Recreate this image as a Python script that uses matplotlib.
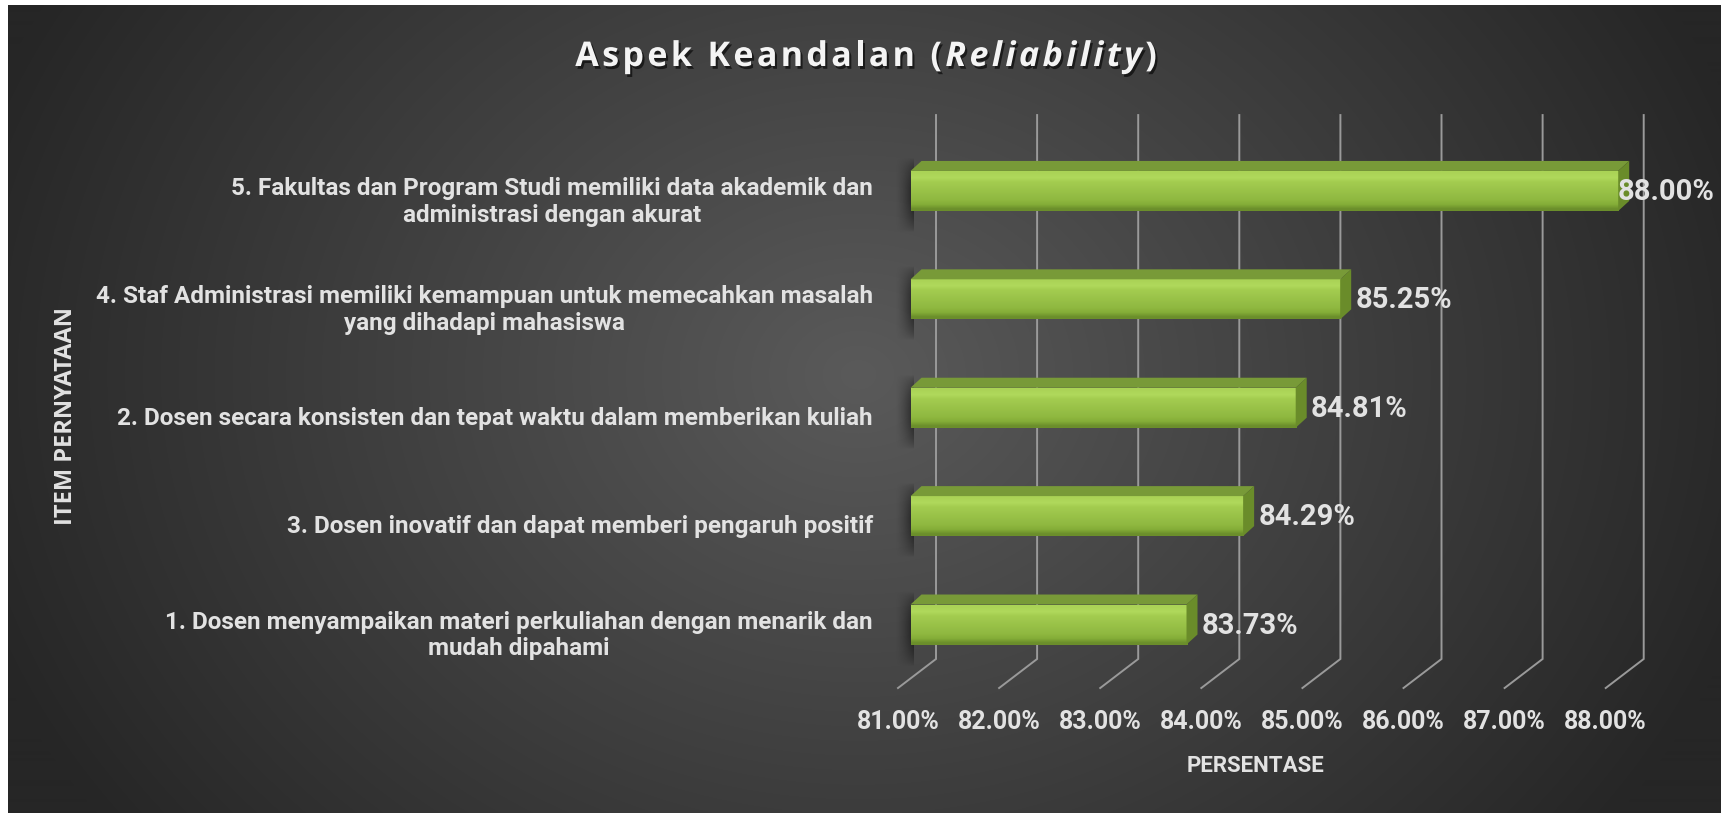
import numpy as np
import matplotlib.pyplot as plt
from matplotlib.patches import Polygon
import matplotlib.patheffects as pe

# data (urut dari bawah ke atas)
labels = [
    "1. Dosen menyampaikan materi perkuliahan dengan menarik dan\nmudah dipahami",
    "3. Dosen inovatif dan dapat memberi pengaruh positif",
    "2. Dosen secara konsisten dan tepat waktu dalam memberikan kuliah",
    "4. Staf Administrasi memiliki kemampuan untuk memecahkan masalah\nyang dihadapi mahasiswa",
    "5. Fakultas dan Program Studi memiliki data akademik dan\nadministrasi dengan akurat",
]
values = [83.73, 84.29, 84.81, 85.25, 88.00]
ticks = [81, 82, 83, 84, 85, 86, 87, 88]
tick_labels = [f"{t:.2f}%" for t in ticks]

plt.rcParams["font.family"] = ["Roboto", "DejaVu Sans"]
TXT = "#e2e2e2"

W, H = 1721, 813
fig = plt.figure(figsize=(W / 100, H / 100), dpi=100, facecolor="white")
r = fig.canvas.get_renderer()

# latar belakang gradasi radial
bg = fig.add_axes([8 / W, 0, 1 - 8 / W, 1 - 5 / H])
bg.set_axis_off()
yy, xx = np.mgrid[0:808, 0:1713]
d = np.sqrt(((xx - 850) / 930) ** 2 + ((yy - 370) / 760) ** 2)
d = np.clip(d, 0, 1)
g = (0x5a + (0x26 - 0x5a) * d) / 255
bg.imshow(np.dstack([g, g, g]), aspect="auto", extent=(0, 1, 0, 1))
bg.set_xlim(0, 1)
bg.set_ylim(0, 1)

# axes utama (bidang depan batang)
ax = fig.add_axes([800 / W, (H - 720) / H, 900 / W, 620 / H])
ax.set_axis_off()
ax.set_xlim(79.907, 88.809)
ax.set_ylim(-0.881, 4.839)
sx = 1 / 101.1   # 1 px dalam satuan x
sy = 1 / 108.4   # 1 px dalam satuan y

# garis grid (dinding belakang + lantai)
for t in ticks:
    xb = t + 25.5 * sx
    xf = t - 12.5 * sx
    ax.plot([xb, xb, xf], [4.70, -0.318, -0.586], color="#9a9a9a", lw=1.4,
            zorder=1, solid_joinstyle="miter")

for t, lab in zip(ticks, tick_labels):
    ax.text(t - 12.5 * sx, -0.899, lab, ha="center", va="center",
            fontsize=18, fontweight="bold", color=TXT)

# batang 3D
h = 40 * sy
dx, dy = 11 * sx, 10 * sy
grad = np.array([
    [0.67, 0.83, 0.34],
    [0.69, 0.85, 0.36],
    [0.64, 0.80, 0.31],
    [0.62, 0.78, 0.30],
    [0.60, 0.76, 0.28],
    [0.58, 0.74, 0.27],
    [0.56, 0.72, 0.25],
    [0.52, 0.68, 0.22],
    [0.42, 0.56, 0.17],
]).reshape(-1, 1, 3)

# bayangan lembut
sh = np.zeros((40, 30, 4))
hx = np.linspace(0, 1, 30) ** 1.5
vy = np.sin(np.linspace(0, np.pi, 40)) ** 0.7
sh[..., 3] = 0.55 * vy[:, None] * hx[None, :]

for i, v in enumerate(values):
    y0, y1 = i - h / 2, i + h / 2
    ax.imshow(sh, extent=(81 - 16 * sx, 81 + 2 * sx, y0 - 22 * sy, y1 + 14 * sy),
              aspect="auto", zorder=2, interpolation="bilinear")
    ax.imshow(grad, extent=(81, v, y0, y1), aspect="auto", zorder=3,
              interpolation="bilinear")
    top = Polygon([(81, y1), (v, y1), (v + dx, y1 + dy), (81 + dx, y1 + dy)],
                  closed=True, facecolor="#789a38", edgecolor="none", zorder=3)
    side = Polygon([(v, y0), (v, y1), (v + dx, y1 + dy), (v + dx, y0 + dy)],
                   closed=True, facecolor="#6a8c2a", edgecolor="none", zorder=3)
    ax.add_patch(top)
    ax.add_patch(side)
    vt = ax.text(v + dx + 4 * sx, i - 0.01, f"{v:.2f}%", ha="left", va="center",
                 fontsize=21, fontweight="bold", color=TXT, zorder=4)
    # geser ke kiri kalau label keluar dari gambar
    ext = vt.get_window_extent(r)
    if ext.x1 > W - 6:
        vt.set_x(vt.get_position()[0] - (ext.x1 - (W - 6)) * sx)
    ax.text(81 - 0.371, i - 0.1, labels[i], ha="right", va="center",
            multialignment="center", linespacing=1.2,
            fontsize=17.5, fontweight="bold", color=TXT)

# judul sumbu
fig.text(1255 / W, 1 - 766 / H, "PERSENTASE", ha="center", va="center",
         fontsize=16, fontweight="bold", color=TXT)
fig.text(66 / W, 1 - 416 / H, "ITEM PERNYATAAN", ha="center", va="center",
         rotation=90, fontsize=17, fontweight="bold", color=TXT,
         family=["Open Sans", "DejaVu Sans"])

# judul dengan bagian miring dan jarak huruf
parts = [("Aspek Keandalan (", "normal"), ("Reliability", "italic"), (")", "normal")]
shadow = [pe.withSimplePatchShadow(offset=(1.5, -2), shadow_rgbFace="black", alpha=0.6)]
fs_title = 24.5
track = 3.4
chars = []
for s, st in parts:
    for c in s:
        t = fig.text(0, 1 - 57 / H, c, ha="left", va="center", fontsize=fs_title,
                     fontweight="bold", style=st, color="#f4f4f4",
                     family=["Open Sans", "DejaVu Sans"], path_effects=shadow)
        w = t.get_window_extent(r).width if c != " " else fs_title * 0.36
        chars.append((t, w))
total = sum(w for _, w in chars) + track * (len(chars) - 1)
x = 866 - total / 2
for t, w in chars:
    t.set_x(x / W)
    x += w + track

fig.savefig("out.png", dpi=100, facecolor="white")
